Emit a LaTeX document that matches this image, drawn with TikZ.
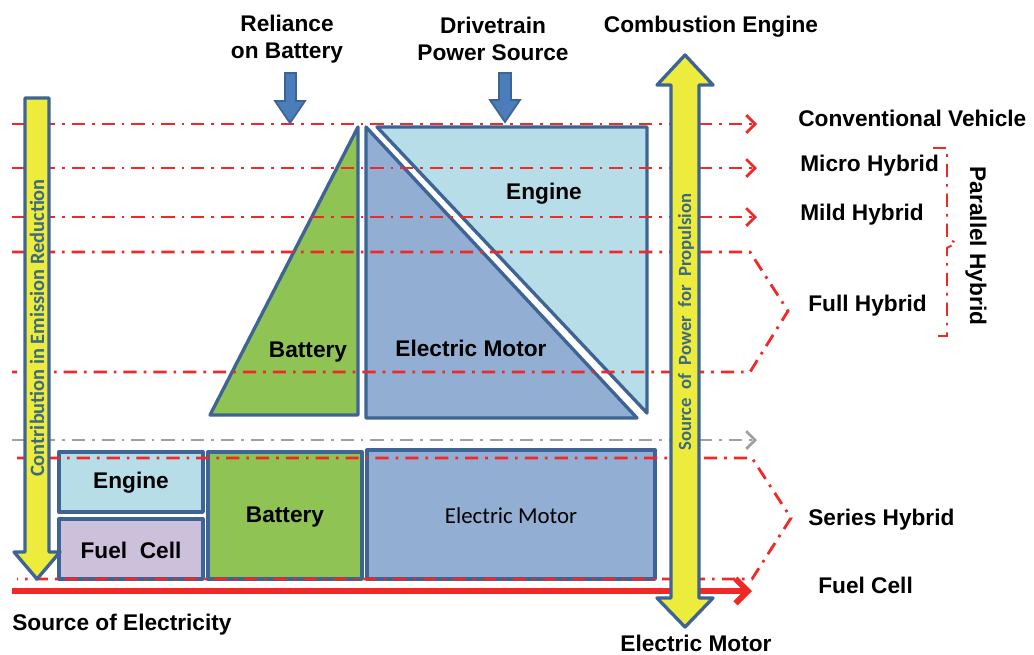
\documentclass[tikz,border=0pt]{standalone}
\usepackage{fontspec}
\setmainfont{Liberation Sans}
\newfontfamily\carlito{Carlito}
\usetikzlibrary{arrows.meta}

\definecolor{engineblue}{HTML}{B7DDE8}
\definecolor{motorblue}{HTML}{92AED3}
\definecolor{battgreen}{HTML}{8FC455}
\definecolor{fuellilac}{HTML}{CCC0DA}
\definecolor{edgeblue}{HTML}{3D6494}
\definecolor{arrowblue}{HTML}{4A7DBA}
\definecolor{signyellow}{HTML}{EDEB3C}
\definecolor{linered}{HTML}{F02828}
\definecolor{linegray}{HTML}{A0A0A0}
\definecolor{textteal}{HTML}{3E6A80}

\begin{document}
\begin{tikzpicture}[
    x=0.02cm, y=-0.02cm,
    font=\fontsize{12.9}{15.5}\selectfont\bfseries,
    block/.style={draw=edgeblue, line width=1.9pt, line join=round},
    level/.style={draw=linered, line width=1.6pt, dash pattern=on 7.5pt off 4pt on 1.5pt off 4pt},
    levelarrow/.style={level, -{Straight Barb[length=5pt,width=10pt]}},
    typename/.style={anchor=west, inner sep=0pt},
    signtext/.style={inner sep=0pt, text=textteal, font=\carlito\bfseries\fontsize{11.6}{13}\selectfont}
]
\useasboundingbox (0,0) rectangle (1034,654);

% Parallel drivetrain shares
\filldraw[block, fill=battgreen] (210,415) -- (358,127) -- (358,415) -- cycle;
\filldraw[block, fill=engineblue] (377,127) -- (647,127) -- (647,413) -- cycle;
\filldraw[block, fill=motorblue] (366,127) -- (637,418) -- (366,418) -- cycle;
\node (tribatt) at (308,352) {Battery};
\node (trimotor) at (471,348) {Electric Motor};
\node (triengine) at (544,194) {Engine};

% Series drivetrain shares
\filldraw[block, fill=engineblue] (59,452) rectangle (203,512);
\filldraw[block, fill=fuellilac] (59,519) rectangle (203,579);
\filldraw[block, fill=battgreen] (208,452) rectangle (362,579);
\filldraw[block, fill=motorblue] (367,450) rectangle (655,579);
\node (boxengine) at (131,483) {Engine};
\node (boxfuel) at (131,550) {Fuel\ \ Cell};
\node (boxbatt) at (285,517) {Battery};
\node (boxmotor) at (511,516) {\carlito\mdseries\fontsize{13}{15}\selectfont Electric Motor};

% Vehicle type levels
\draw[levelarrow] (12,124) -- (757,124);
\draw[levelarrow] (12,168) -- (757,168);
\draw[levelarrow] (12,217) -- (757,217);
\draw[level] (12,252) -- (750,252) -- (788,311) -- (750,372) -- (12,372);
\draw[levelarrow, draw=linegray] (12,440) -- (757,440);
\draw[level] (17,458) -- (752,458) -- (791,518) -- (752,579) -- (17,579);
\draw[draw=linered, line width=3.4pt, -{Straight Barb[length=7pt,width=14pt]}] (12,591) -- (752,591);

% Bracket for parallel hybrids
\draw[level, line width=1.1pt] (933,148) -- (947,148) -- (947,238) -- (956,243) -- (947,248) -- (947,336) -- (938,336);
\node[rotate=-90, inner sep=0pt] (parallel) at (976,246) {Parallel Hybrid};

% Yellow scale arrows
\filldraw[block, fill=signyellow] (25,98) -- (49,98) -- (49,552) -- (60,552) -- (37,579) -- (14,552) -- (25,552) -- cycle;
\node[signtext, rotate=90] (emission) at (37,328) {Contribution in Emission Reduction};
\filldraw[block, fill=signyellow] (685,55) -- (713,85) -- (699,85) -- (699,598) -- (713,598) -- (685,627) -- (657,598) -- (671,598) -- (671,85) -- (657,85) -- cycle;
\node[signtext, rotate=90, font=\carlito\bfseries\fontsize{10.6}{12}\selectfont] (propulsion) at (686,322) {Source\ \ of\ \ Power\ \ for\ \ Propulsion};

% Blue pointer arrows
\filldraw[draw=edgeblue, line width=1pt, fill=arrowblue] (285,73) -- (296,73) -- (296,101) -- (305,101) -- (290,123) -- (275,101) -- (285,101) -- cycle;
\filldraw[draw=edgeblue, line width=1pt, fill=arrowblue] (499,73) -- (511,73) -- (511,100) -- (520,100) -- (505,122) -- (490,100) -- (499,100) -- cycle;

% Labels
\node[align=center] (reliance) at (287,39) {Reliance\\on Battery};
\node[align=center] (drivetrain) at (493,39) {Drivetrain\\Power Source};
\node (combustion) at (711,27) {Combustion Engine};
\node (elecmotor) at (696,643) {Electric Motor};
\node[typename] (electricity) at (12,625) {Source of Electricity};
\node[typename] (conv) at (798,118) {Conventional Vehicle};
\node[typename] (micro) at (800,166) {Micro Hybrid};
\node[typename] (mild) at (800,215) {Mild Hybrid};
\node[typename] (full) at (808,306) {Full Hybrid};
\node[typename] (series) at (808,520) {Series Hybrid};
\node[typename] (fuelcell) at (818,585) {Fuel Cell};
\end{tikzpicture}
\end{document}
